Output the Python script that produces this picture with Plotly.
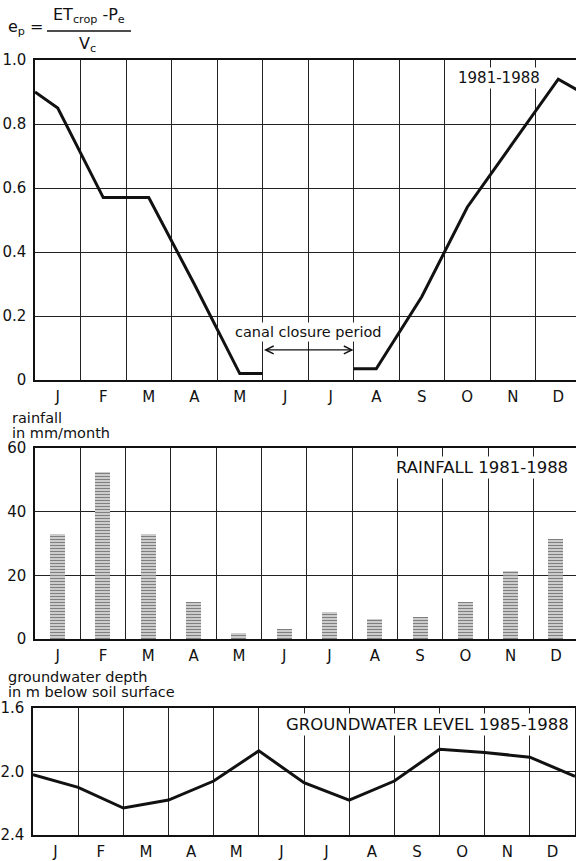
import plotly.graph_objects as go

# month axis: 0 = start of January, 12 = end of December
months = ["J", "F", "M", "A", "M", "J", "J", "A", "S", "O", "N", "D"]
month_centres = [0.5, 1.5, 2.5, 3.5, 4.5, 5.5, 6.5, 7.5, 8.5, 9.5, 10.5, 11.5]
month_edges = [0, 1, 2, 3, 4, 5, 6, 7, 8, 9, 10, 11, 12]

# e_p curve (gap = canal closure period)
ep_x = [0, 0.5, 1.5, 2.5, 3.5, 4.5, 5.0, None, 7.0, 7.5, 8.5, 9.5, 10.5, 11.5, 12]
ep_y = [0.90, 0.85, 0.57, 0.57, 0.30, 0.02, 0.02, None, 0.035, 0.035, 0.26, 0.54, 0.74, 0.94, 0.90]

# monthly rainfall, mm/month
rainfall = [33, 52.5, 33, 11.5, 2, 3, 8.5, 6.3, 7, 11.6, 21.4, 31.5]

# groundwater depth, m below soil surface, at month boundaries
gw_x = month_edges
gw_depth = [2.02, 2.10, 2.23, 2.18, 2.06, 1.87, 2.07, 2.18, 2.06, 1.86, 1.88, 1.91, 2.03]

W, H = 576, 861
FONT = "DejaVu Sans"


def px_x(p):
    return p / W


def px_y(p):
    return 1 - p / H


fig = go.Figure()

fig.add_trace(go.Scatter(
    x=ep_x, y=ep_y, mode="lines", xaxis="x", yaxis="y",
    line=dict(color="#111", width=3), connectgaps=False, showlegend=False
))
fig.add_trace(go.Bar(
    x=month_centres, y=rainfall, width=0.33, xaxis="x2", yaxis="y2",
    marker=dict(color="white", line=dict(width=0),
                pattern=dict(shape="-", fgcolor="#000", bgcolor="white", size=3, solidity=0.6)),
    showlegend=False
))
fig.add_trace(go.Scatter(
    x=gw_x, y=gw_depth, mode="lines", xaxis="x3", yaxis="y3",
    line=dict(color="#111", width=3), showlegend=False
))

grid = dict(color="#222", width=1.2)


def xaxis(domain, rng, anchor):
    return dict(
        domain=domain, range=rng, anchor=anchor,
        tickmode="array", tickvals=month_centres, ticktext=months,
        showgrid=False, zeroline=False, ticks="", ticklabelstandoff=2,
        showline=True, mirror=True, linecolor="#111", linewidth=1.5,
        tickfont=dict(family=FONT, size=15, color="#111"),
        minor=dict(tickmode="array", tickvals=month_edges, showgrid=True,
                   gridcolor=grid["color"], gridwidth=grid["width"], ticks=""),
        automargin=False, fixedrange=True,
    )


def yaxis(domain, rng, anchor, tickvals, ticktext, mirror):
    return dict(
        domain=domain, range=rng, anchor=anchor,
        tickmode="array", tickvals=tickvals, ticktext=ticktext,
        showgrid=True, gridcolor=grid["color"], gridwidth=grid["width"],
        zeroline=False, ticks="", ticklabelstandoff=4,
        showline=True, mirror=mirror, linecolor="#111", linewidth=1.5,
        tickfont=dict(family=FONT, size=15, color="#111"),
        automargin=False, fixedrange=True,
    )


fig.update_layout(
    width=W, height=H,
    margin=dict(l=0, r=0, t=0, b=0),
    paper_bgcolor="white", plot_bgcolor="white",
    font=dict(family=FONT, size=15, color="#111"),
    xaxis=xaxis([px_x(35), 1], [0, 541 / 45.5], "y"),
    yaxis=yaxis([px_y(380), px_y(60)], [0, 1.0], "x",
                [0, 0.2, 0.4, 0.6, 0.8, 1.0], ["0", "0.2", "0.4", "0.6", "0.8", "1.0"], False),
    xaxis2=xaxis([px_x(35), 1], [0, 541 / 45.3], "y2"),
    yaxis2=yaxis([px_y(639), px_y(448)], [0, 60], "x2",
                 [0, 20, 40, 60], ["0", "20", "40", "60"], False),
    xaxis3=xaxis([px_x(33), px_x(575)], [0, 12], "y3"),
    yaxis3=yaxis([px_y(835), px_y(708)], [2.4, 1.6], "x3",
                 [1.6, 2.0, 2.4], ["1.6", "2.0", "2.4"], True),
    bargap=0,
)


def note(text, x, y, size=15, xanchor="left", bg=None):
    fig.add_annotation(
        text=text, x=px_x(x), y=px_y(y), xref="paper", yref="paper",
        xanchor=xanchor, yanchor="middle", showarrow=False,
        font=dict(family=FONT, size=size, color="#111"),
        bgcolor=bg, borderpad=1,
    )


# formula
note("e<sub>p</sub> =", 6, 28, size=16)
note("ET<sub>crop</sub> -P<sub>e</sub>", 89, 16, size=16, xanchor="center")
note("V<sub>c</sub>", 87, 44, size=16, xanchor="center")
fig.add_shape(type="line", xref="paper", yref="paper",
              x0=px_x(47), x1=px_x(131), y0=px_y(31), y1=px_y(31),
              line=dict(color="#111", width=1.3))

# panel labels
note("1981-1988", 542, 78, xanchor="right", bg="white")
note("RAINFALL 1981-1988", 570, 467, size=16.5, xanchor="right", bg="white")
note("GROUNDWATER LEVEL 1985-1988", 571, 724, size=16.5, xanchor="right", bg="white")

# axis titles
note("rainfall", 10, 418, size=14.5)
note("in mm/month", 10, 433, size=14.5)
note("groundwater depth", 6, 677, size=14.5)
note("in m below soil surface", 6, 692, size=14.5)

# canal closure period
note("canal closure period", 308, 332, size=14.5, xanchor="center", bg="white")
fig.add_annotation(
    x=7.0, y=0.094, ax=5.0, ay=0.094, xref="x", yref="y", axref="x", ayref="y",
    text="", showarrow=True, arrowhead=5, startarrowhead=5, arrowside="end+start",
    arrowsize=1.3, startarrowsize=1.3, arrowwidth=1.2, arrowcolor="#111",
    standoff=0, startstandoff=0,
)

# the page body has a default 8px margin; drop it so the figure fills the window
fig.write_html("out.html", config={"displayModeBar": False},
               post_script="document.body.style.margin='0';")
